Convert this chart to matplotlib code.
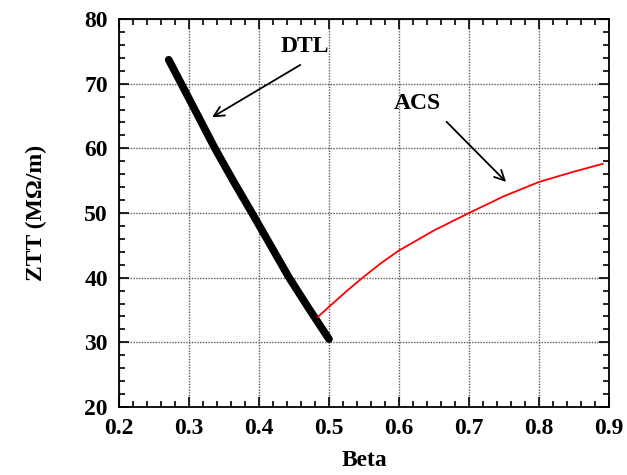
import numpy as np
import matplotlib
matplotlib.use('Agg')
import matplotlib.pyplot as plt
from matplotlib.ticker import MultipleLocator

# shunt impedance vs beta for the two linac sections
dtl_beta = [0.271, 0.300, 0.337, 0.363, 0.390, 0.416, 0.443, 0.472, 0.500]
dtl_ztt = [73.7, 67.7, 60.0, 55.0, 50.0, 45.1, 40.0, 35.1, 30.5]

acs_beta = [0.484, 0.500, 0.525, 0.548, 0.575, 0.600, 0.650, 0.700, 0.750,
            0.800, 0.850, 0.891]
acs_ztt = [33.9, 35.5, 37.9, 40.0, 42.3, 44.2, 47.3, 50.0, 52.6,
           54.8, 56.4, 57.6]

xticks = [0.2, 0.3, 0.4, 0.5, 0.6, 0.7, 0.8, 0.9]

plt.rcParams['font.family'] = ['Liberation Serif', 'DejaVu Serif']
plt.rcParams['font.weight'] = 'bold'
ax_fontdict = {'fontsize': 17, 'fontweight': 'bold'}

fig = plt.figure(figsize=(6.27, 4.75), dpi=100)
ax = fig.add_axes([119/627, 1 - 407/475, 490/627, 388/475])

ax.plot(dtl_beta, dtl_ztt, '-', color='black', linewidth=5.5,
        solid_capstyle='round', solid_joinstyle='round', zorder=3)
ax.plot(acs_beta, acs_ztt, '-', color='red', linewidth=1.3, zorder=3)

ax.set_xlim(0.2, 0.9)
ax.set_ylim(20, 80)
ax.set_xticks(xticks)
ax.set_xticklabels(['%.1f' % v for v in xticks])
ax.xaxis.set_minor_locator(MultipleLocator(0.02))
ax.yaxis.set_major_locator(MultipleLocator(10))
ax.yaxis.set_minor_locator(MultipleLocator(2))
ax.tick_params(which='both', direction='in', top=True, right=True,
               labelsize=17, width=1.2)
ax.tick_params(which='major', length=7, pad=8)
ax.tick_params(which='minor', length=4.5)
for lbl in ax.get_xticklabels() + ax.get_yticklabels():
    lbl.set_fontweight('bold')
for sp in ax.spines.values():
    sp.set_linewidth(1.3)

ax.grid(True, which='major', linestyle=(0, (1, 1)), color='0.35',
        linewidth=1.0)

ax.set_xlabel('Beta', fontdict=ax_fontdict, labelpad=8)
ax.set_ylabel('ZTT (M\u03a9/m)', fontdict=ax_fontdict, labelpad=27)

# curve labels with pointer arrows
arrow_kw = dict(arrowstyle='->', color='black', lw=1.3,
                shrinkA=0, shrinkB=0, mutation_scale=18)
ax.text(0.465, 75.7, 'DTL', fontsize=17, fontweight='bold',
        ha='center', va='center')
ax.annotate('', xy=(0.333, 64.8), xytext=(0.459, 72.9), arrowprops=arrow_kw)
ax.text(0.626, 67.0, 'ACS', fontsize=17, fontweight='bold',
        ha='center', va='center')
ax.annotate('', xy=(0.753, 54.8), xytext=(0.668, 64.1), arrowprops=arrow_kw)

fig.savefig('out.png', dpi=100)
